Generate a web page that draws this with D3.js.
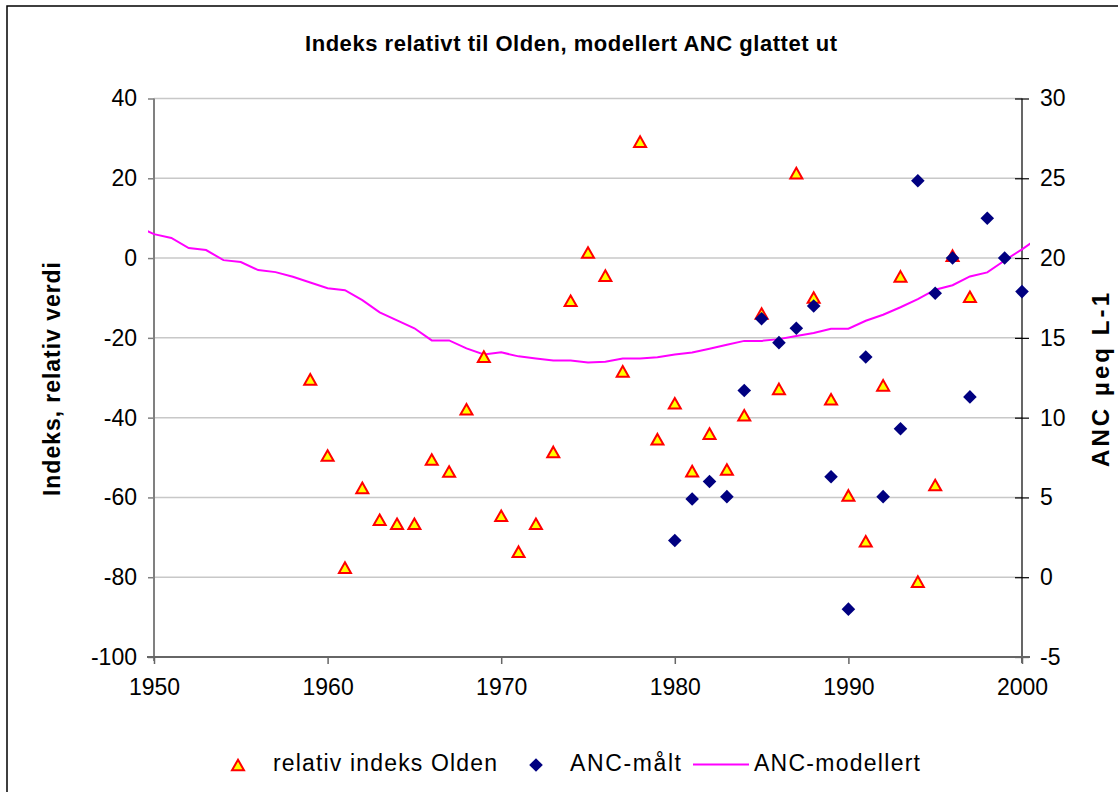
<!DOCTYPE html>
<html>
<head>
<meta charset="utf-8">
<script src="https://cdn.jsdelivr.net/npm/d3@7"></script>
<style>
  html, body { margin: 0; padding: 0; background: #fff; }
  svg { display: block; font-family: "Liberation Sans", Arial, sans-serif; }
</style>
</head>
<body>
<svg id="chart" width="1118" height="792"></svg>
<script>
// relativ indeks Olden (left axis), one value per year
const indeksYears = d3.range(1959, 1998);
const indeksValues = [
  -30.4, -49.5, -77.6, -57.6, -65.6, -66.6, -66.6, -50.5, -53.5, -37.9,
  -24.7, -64.6, -73.6, -66.6, -48.6, -10.7, 1.4, -4.4, -28.4, 29.2,
  -45.4, -36.4, -53.4, -44.0, -53.0, -39.4, -13.9, -32.8, 21.3, -9.9,
  -35.4, -59.5, -71.0, -31.9, -4.6, -81.1, -56.9, 0.6, -9.7
];

// ANC-målt (right axis)
const ancMaltYears = d3.range(1980, 2001);
const ancMaltValues = [
  2.3, 4.9, 6.0, 5.05, 11.7, 16.2, 14.7, 15.6, 17.0, 6.3,
  -2.0, 13.8, 5.05, 9.3, 24.85, 17.8, 20.0, 11.3, 22.5, 20.0, 17.9
];

// ANC-modellert (right axis), runs a little past both ends of the axis
const ancModYears = d3.range(1949, 2002);
const ancModValues = [
  22.0, 21.5, 21.26, 20.63, 20.5, 19.87, 19.75, 19.25, 19.12, 18.83,
  18.47, 18.11, 17.99, 17.36, 16.6, 16.1, 15.6, 14.84, 14.84, 14.34,
  13.96, 14.09, 13.84, 13.71, 13.58, 13.58, 13.46, 13.5, 13.7, 13.7,
  13.78, 13.95, 14.08, 14.32, 14.57, 14.81, 14.81, 14.92, 15.12, 15.3,
  15.57, 15.57, 16.07, 16.45, 16.92, 17.43, 18.02, 18.3, 18.85, 19.1,
  19.85, 20.55, 21.3
];

const xTicks = [1950, 1960, 1970, 1980, 1990, 2000];
const leftTicks = [40, 20, 0, -20, -40, -60, -80, -100];
const rightTicks = [30, 25, 20, 15, 10, 5, 0, -5];

const svg = d3.select('#chart');

const plotL = 154, plotR = 1022, plotT = 98.5, plotB = 657;
const tickFont = 23;

const x = d3.scaleLinear().domain([1950, 2000]).range([plotL, plotR]);
const yL = d3.scaleLinear().domain([-100, 40]).range([plotB, plotT]);
const yR = d3.scaleLinear().domain([-5, 30]).range([plotB, plotT]);

// plain hyphen for negatives, like the original
const plain = d => String(d);

// outer chart border (only left and top fall inside the picture)
svg.append('rect')
  .attr('x', 7).attr('y', 6)
  .attr('width', 1130).attr('height', 800)
  .attr('fill', 'none')
  .attr('stroke', '#000')
  .attr('stroke-width', 1.5);

// title
svg.append('text')
  .attr('x', 571).attr('y', 51)
  .attr('text-anchor', 'middle')
  .attr('font-size', 22)
  .attr('font-weight', 'bold')
  .attr('textLength', 532)
  .attr('lengthAdjust', 'spacing')
  .text('Indeks relativt til Olden, modellert ANC glattet ut');

// gridlines
svg.append('g')
  .selectAll('line')
  .data(leftTicks.slice(0, -1))
  .join('line')
  .attr('x1', plotL).attr('x2', plotR)
  .attr('y1', d => yL(d)).attr('y2', d => yL(d))
  .attr('stroke', '#c8c8c8')
  .attr('stroke-width', 1.5);

// left axis
const leftAxis = svg.append('g')
  .attr('transform', `translate(${plotL},0)`)
  .call(d3.axisLeft(yL).tickValues(leftTicks).tickFormat(plain).tickSize(6).tickPadding(11));
leftAxis.select('.domain').attr('stroke', '#808080').attr('stroke-width', 2)
  .attr('d', `M0,${plotT}V${plotB + 4}`);
leftAxis.selectAll('.tick line').attr('stroke', '#808080').attr('stroke-width', 1.5);
leftAxis.selectAll('.tick text')
  .style('font-size', tickFont + 'px').attr('font-family', '"Liberation Sans", Arial, sans-serif')
  .attr('fill', '#000');

// right axis, ticks cross the line
const rightAxis = svg.append('g')
  .attr('transform', `translate(${plotR},0)`)
  .call(d3.axisRight(yR).tickValues(rightTicks).tickFormat(plain).tickSize(7).tickPadding(11));
rightAxis.select('.domain').attr('stroke', '#000').attr('stroke-width', 1.2)
  .attr('d', `M0,${plotT}V${plotB + 6}`);
rightAxis.selectAll('.tick line').attr('x1', -7).attr('stroke', '#000').attr('stroke-width', 1.2);
rightAxis.selectAll('.tick text')
  .style('font-size', tickFont + 'px').attr('font-family', '"Liberation Sans", Arial, sans-serif')
  .attr('fill', '#000');

// bottom axis
const bottomAxis = svg.append('g')
  .attr('transform', `translate(0,${plotB})`)
  .call(d3.axisBottom(x).tickValues(xTicks).tickFormat(plain).tickSize(7).tickPadding(15));
bottomAxis.select('.domain').attr('stroke', '#666').attr('stroke-width', 2)
  .attr('d', `M${plotL - 7},0H${plotR + 8}`);
bottomAxis.selectAll('.tick line').attr('stroke', '#666').attr('stroke-width', 1.5);
bottomAxis.selectAll('.tick text')
  .style('font-size', tickFont + 'px').attr('font-family', '"Liberation Sans", Arial, sans-serif')
  .attr('fill', '#000');

// axis titles
svg.append('text')
  .attr('transform', 'translate(60,379) rotate(-90)')
  .attr('text-anchor', 'middle')
  .attr('font-size', 23)
  .attr('font-weight', 'bold')
  .attr('textLength', 234)
  .attr('lengthAdjust', 'spacing')
  .text('Indeks, relativ verdi');

svg.append('text')
  .attr('transform', 'translate(1109,380) rotate(-90)')
  .attr('text-anchor', 'middle')
  .attr('font-size', 24)
  .attr('font-weight', 'bold')
  .attr('textLength', 174)
  .attr('lengthAdjust', 'spacing')
  .text('ANC µeq L-1');

// modelled line, clipped just outside the plot area
svg.append('clipPath').attr('id', 'plotclip')
  .append('rect')
  .attr('x', plotL - 6).attr('y', plotT - 10)
  .attr('width', plotR - plotL + 14).attr('height', plotB - plotT + 20);

const modData = ancModYears.map((yr, i) => ({ yr, v: ancModValues[i] }));
svg.append('path')
  .datum(modData)
  .attr('clip-path', 'url(#plotclip)')
  .attr('fill', 'none')
  .attr('stroke', '#ff00ff')
  .attr('stroke-width', 2)
  .attr('d', d3.line().x(d => x(d.yr)).y(d => yR(d.v)));

const triPath = 'M0,-5.8L6,4.8L-6,4.8Z';
const diaPath = 'M0,-6.8L6.8,0L0,6.8L-6.8,0Z';

// triangles
svg.append('g')
  .selectAll('path')
  .data(indeksYears.map((yr, i) => ({ yr, v: indeksValues[i] })))
  .join('path')
  .attr('transform', d => `translate(${x(d.yr)},${yL(d.v) + 0.5})`)
  .attr('d', triPath)
  .attr('fill', '#ffff00')
  .attr('stroke', '#ff0000')
  .attr('stroke-width', 2);

// diamonds
svg.append('g')
  .selectAll('path')
  .data(ancMaltYears.map((yr, i) => ({ yr, v: ancMaltValues[i] })))
  .join('path')
  .attr('transform', d => `translate(${x(d.yr)},${yR(d.v)})`)
  .attr('d', diaPath)
  .attr('fill', '#000080');

// legend
const legend = svg.append('g').attr('font-size', 23);
legend.append('path')
  .attr('transform', 'translate(238,765.5)')
  .attr('d', triPath)
  .attr('fill', '#ffff00').attr('stroke', '#ff0000').attr('stroke-width', 2);
legend.append('text').attr('x', 273).attr('y', 771)
  .attr('textLength', 224).attr('lengthAdjust', 'spacing')
  .text('relativ indeks Olden');
legend.append('path')
  .attr('transform', 'translate(536,765)')
  .attr('d', diaPath)
  .attr('fill', '#000080');
legend.append('text').attr('x', 570).attr('y', 771)
  .attr('textLength', 111).attr('lengthAdjust', 'spacing')
  .text('ANC-målt');
legend.append('line')
  .attr('x1', 693).attr('x2', 749).attr('y1', 764.5).attr('y2', 764.5)
  .attr('stroke', '#ff00ff').attr('stroke-width', 2);
legend.append('text').attr('x', 754).attr('y', 771)
  .attr('textLength', 166).attr('lengthAdjust', 'spacing')
  .text('ANC-modellert');
</script>
</body>
</html>
